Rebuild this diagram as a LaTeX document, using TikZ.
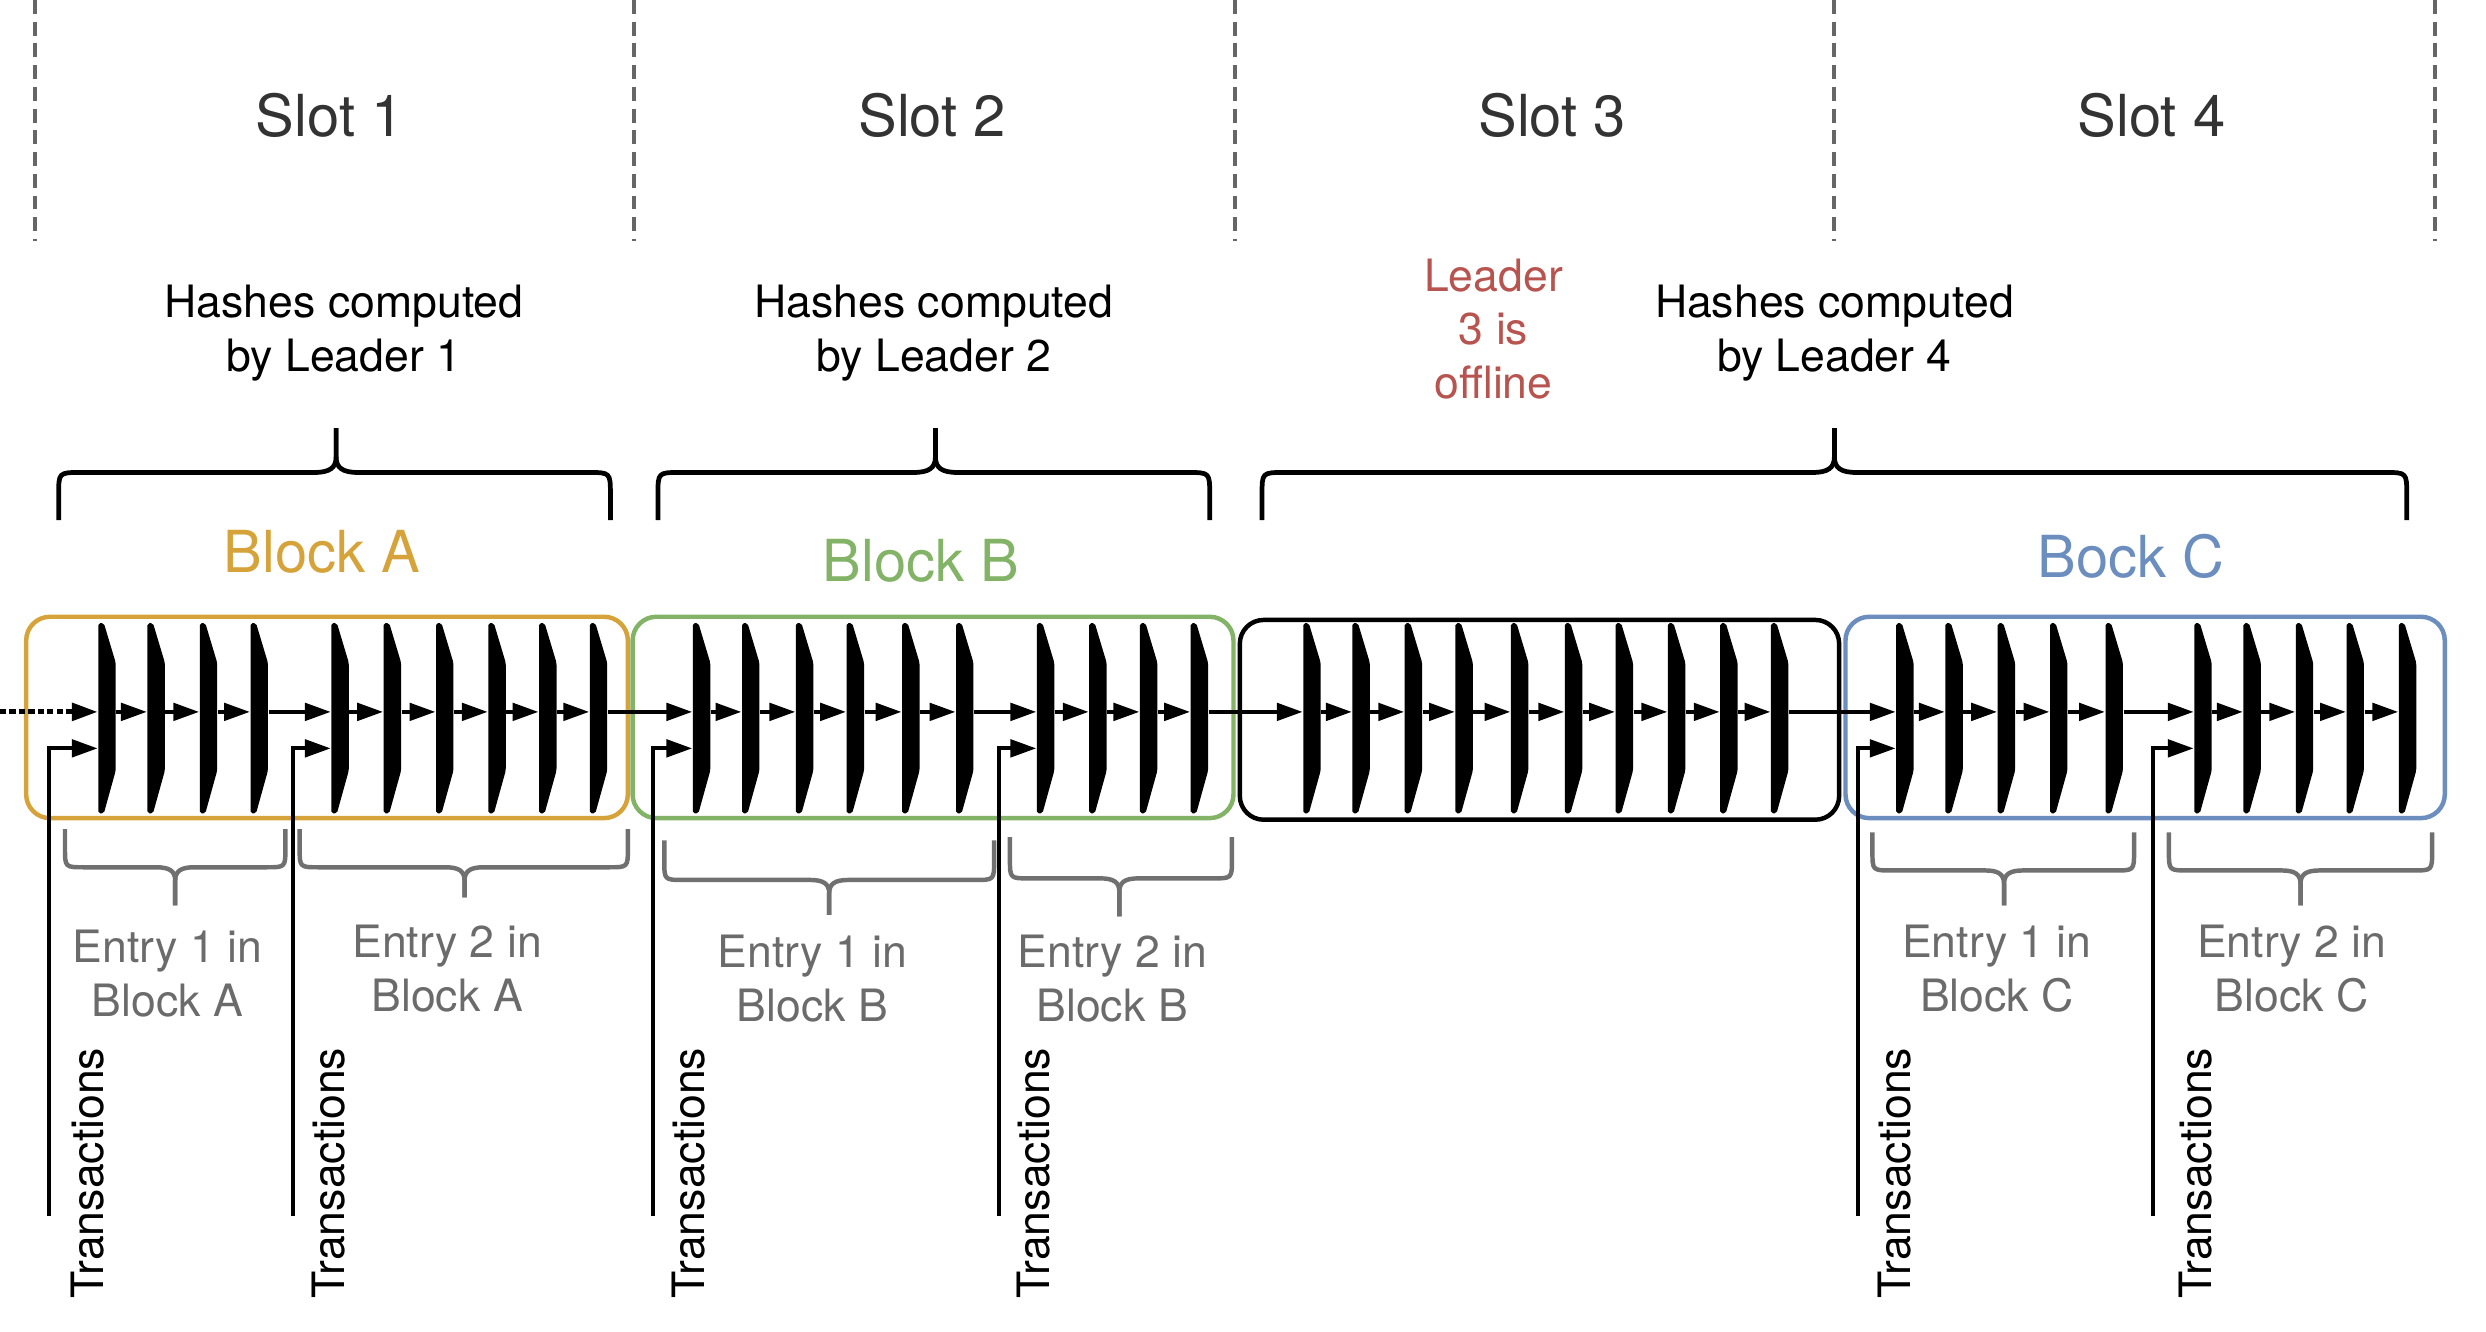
\documentclass[tikz,border=0pt]{standalone}
\usepackage{fontspec}
\setmainfont{TeX Gyre Heros}
\usetikzlibrary{arrows.meta,calc}
\definecolor{goldA}{HTML}{D6A33A}
\definecolor{greenB}{HTML}{82B366}
\definecolor{blueC}{HTML}{6C8EBF}
\definecolor{redL}{HTML}{B85450}
\definecolor{grayE}{HTML}{6B6B6B}
\definecolor{grayBr}{HTML}{707070}
\definecolor{slotc}{HTML}{333333}
\definecolor{dashc}{HTML}{666666}
\newcommand\curlybr[8]{%
  \pgfmathsetmacro\crlsg{sign(#5-#6)}%
  \draw[#1] (#2,#5) -- (#2,{#6+\crlsg*#8}) .. controls (#2,#6) .. ({#2+#8},#6) -- ({#4-#8},#6) .. controls ({#4-0.3*#8},#6) and (#4,{#6-\crlsg*0.2*#8}) .. (#4,{#6-\crlsg*0.7*#8}) -- (#4,#7);
  \draw[#1] (#3,#5) -- (#3,{#6+\crlsg*#8}) .. controls (#3,#6) .. ({#3-#8},#6) -- ({#4+#8},#6) .. controls ({#4+0.3*#8},#6) and (#4,{#6-\crlsg*0.2*#8}) .. (#4,{#6-\crlsg*0.7*#8}) -- (#4,#7);
}
\begin{document}
\begin{tikzpicture}[x=0.02cm,y=-0.02cm,
  lnk/.style={line width=1.5pt,-{Triangle[length=9.3pt,width=6.2pt]}},
  hbar/.style={inner sep=0pt,minimum width=0.22cm,minimum height=0.2cm},
  txts/.style={font=\fontsize{16}{19.35}\selectfont,align=center,inner sep=0pt},
  txtb/.style={font=\fontsize{20.8}{25}\selectfont,inner sep=0pt},
  blockbox/.style={rounded corners=0.3cm,line width=1.6pt},
  slotline/.style={draw=dashc,line width=1.4pt,dash pattern=on 5pt off 2.8pt},
  topbr/.style={draw=black,line width=1.7pt,line join=round},
  entbr/.style={draw=grayBr,line width=1.6pt,line join=round}]
\useasboundingbox (0,0) rectangle (1568,840);

% slot separators
\foreach \sx in {22,400,779,1157,1536} \draw[slotline] (\sx,0) -- (\sx,152);

% slot labels
\node[txtb,text=slotc] (s1) at (208,73) {Slot 1};
\node[txtb,text=slotc] (s2) at (588,73) {Slot 2};
\node[txtb,text=slotc] (s3) at (979,73) {Slot 3};
\node[txtb,text=slotc] (s4) at (1357,73) {Slot 4};

% leader texts
\node[txts] (h1) at (217,210) {Hashes computed\\by Leader 1};
\node[txts] (h2) at (589,210) {Hashes computed\\by Leader 2};
\node[txts] (h4) at (1157,210) {Hashes computed\\by Leader 4};
\node[txts,text=redL] (off3) at (942,207.5) {Leader\\3 is\\offline};

% top braces
\curlybr{topbr}{37}{385}{212}{328}{298}{270}{14}
\curlybr{topbr}{415}{763}{590}{328}{298}{270}{14}
\curlybr{topbr}{796}{1518}{1157}{328}{298}{270}{14}

% block labels
\node[txtb,text=goldA] (la) at (203,348) {Block A};
\node[txtb,text=greenB] (lb) at (581,354) {Block B};
\node[txtb,text=blueC] (lc) at (1344,351) {Bock C};

% block boxes
\draw[blockbox,draw=goldA] (16.5,389) rectangle (396,516);
\draw[blockbox,draw=greenB] (399,389) rectangle (778,516);
\draw[blockbox,draw=black] (782,391) rectangle (1160,517);
\draw[blockbox,draw=blueC] (1164,389) rectangle (1542,516);

% hash bars
\foreach \x [count=\i] in {62,93,126,158,209,242,275,308,340,372,
  437,468,502,534,569,603,654,687,719,751,
  822,853,886,918,953,987,1019,1052,1085,1117,
  1196,1227,1260,1293,1328,1384,1415,1448,1480,1513} {
  \fill[rounded corners=0.7pt] (\x,393) -- (\x+3.5,393) -- (\x+11,418) -- (\x+11,486) -- (\x+3.5,513) -- (\x,513) -- cycle;
  \node[hbar] (b\i) at (\x+5.5,449) {};
}

% hash chain
\coordinate (start) at (0,449);
\draw[lnk,line width=1.8pt,dash pattern=on 2.2pt off 1.2pt] (start) -- (b1.west);
\foreach \i [evaluate=\i as \j using int(\i+1)] in {1,...,39}
  \draw[lnk] (b\i.east) -- (b\j.west);

% transactions
\foreach \tx/\b/\lx in {31/1/55,185/5/207,412/11/434,630/17/652,1172/31/1195,1358/36/1385} {
  \coordinate (t\b) at (\tx,767);
  \draw[lnk] (t\b) |- ($(b\b.west)+(0,23)$);
  \node[txts,rotate=90] (tl\b) at (\lx,740) {Transactions};
}

% entry braces
\curlybr{entbr}{41}{180}{110.5}{523}{547}{571}{12}
\curlybr{entbr}{189}{396}{293}{523}{547}{566}{12}
\curlybr{entbr}{419}{627}{523}{530}{555}{577}{12}
\curlybr{entbr}{637}{777}{706}{528}{554}{578}{12}
\curlybr{entbr}{1181}{1346}{1264}{525}{549}{571}{12}
\curlybr{entbr}{1368}{1534}{1451}{525}{549}{571}{12}

% entry labels
\node[txts,text=grayE] (e1) at (105.5,614) {Entry 1 in\\Block A};
\node[txts,text=grayE] (e2) at (282,611) {Entry 2 in\\Block A};
\node[txts,text=grayE] (e3) at (512.5,617) {Entry 1 in\\Block B};
\node[txts,text=grayE] (e4) at (701.5,617) {Entry 2 in\\Block B};
\node[txts,text=grayE] (e5) at (1259.5,611) {Entry 1 in\\Block C};
\node[txts,text=grayE] (e6) at (1445.5,611) {Entry 2 in\\Block C};
\end{tikzpicture}
\end{document}
